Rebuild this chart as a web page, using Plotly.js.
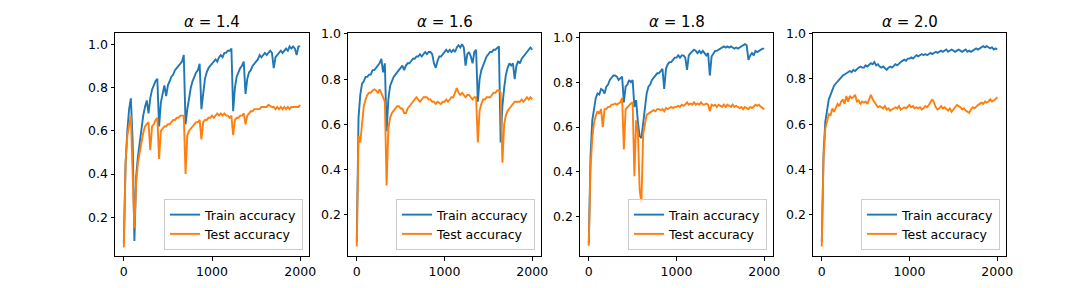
<!DOCTYPE html>
<html>
<head>
<meta charset="utf-8">
<script src="https://cdn.plot.ly/plotly-3.0.1.min.js"></script>
<style>html,body{margin:0;padding:0;background:#fff;}#chart{width:1076px;height:288px;}</style>
</head>
<body>
<div id="chart"></div>
<script>
const STEP = 20;
const alphaLabels = ["1.4", "1.6", "1.8", "2.0"];
const seriesNames = ["Train accuracy", "Test accuracy"];

const train14 = [
0.08,0.45,0.60,0.70,0.75,0.55,0.09,0.39,0.48,0.55,
0.62,0.67,0.71,0.74,0.68,0.75,0.79,0.81,0.83,0.84,
0.62,0.73,0.78,0.81,0.76,0.81,0.83,0.85,0.86,0.88,
0.89,0.90,0.91,0.92,0.95,0.63,0.70,0.76,0.80,0.83,
0.85,0.87,0.88,0.91,0.70,0.78,0.84,0.87,0.89,0.90,
0.91,0.92,0.93,0.92,0.94,0.95,0.94,0.96,0.96,0.97,
0.97,0.98,0.69,0.80,0.85,0.87,0.89,0.90,0.92,0.77,
0.84,0.87,0.88,0.90,0.91,0.92,0.93,0.95,0.94,0.95,
0.96,0.95,0.96,0.97,0.96,0.89,0.94,0.95,0.96,0.97,
0.96,0.97,0.98,0.97,0.99,0.98,0.99,0.98,0.95,0.99,
0.99];
const test14 = [
0.06,0.45,0.58,0.63,0.67,0.40,0.15,0.36,0.45,0.50,
0.55,0.59,0.62,0.63,0.64,0.51,0.62,0.63,0.65,0.66,
0.47,0.60,0.61,0.62,0.62,0.63,0.63,0.64,0.65,0.65,
0.66,0.66,0.67,0.67,0.67,0.40,0.58,0.60,0.61,0.62,
0.63,0.64,0.64,0.65,0.56,0.64,0.65,0.65,0.66,0.66,
0.67,0.66,0.67,0.68,0.67,0.68,0.67,0.68,0.67,0.67,
0.66,0.67,0.58,0.65,0.66,0.66,0.67,0.67,0.68,0.63,
0.67,0.68,0.69,0.69,0.70,0.70,0.70,0.70,0.71,0.71,
0.71,0.71,0.72,0.715,0.71,0.71,0.70,0.71,0.70,0.71,
0.70,0.71,0.70,0.71,0.70,0.71,0.71,0.71,0.71,0.71,
0.72];
const train16 = [
0.08,0.63,0.73,0.78,0.79,0.81,0.81,0.82,0.82,0.84,
0.84,0.85,0.86,0.87,0.89,0.83,0.87,0.57,0.71,0.77,
0.79,0.81,0.82,0.83,0.84,0.85,0.86,0.84,0.86,0.87,
0.87,0.88,0.89,0.89,0.90,0.90,0.91,0.90,0.91,0.92,
0.91,0.92,0.92,0.91,0.87,0.85,0.88,0.90,0.90,0.91,
0.92,0.93,0.92,0.93,0.92,0.93,0.92,0.94,0.95,0.94,
0.955,0.94,0.86,0.91,0.92,0.90,0.87,0.92,0.93,0.70,
0.80,0.84,0.86,0.88,0.90,0.91,0.92,0.92,0.93,0.93,
0.94,0.945,0.52,0.68,0.76,0.82,0.85,0.87,0.86,0.87,
0.80,0.86,0.88,0.87,0.89,0.90,0.91,0.92,0.93,0.94,
0.93];
const test16 = [
0.06,0.55,0.52,0.62,0.68,0.71,0.73,0.74,0.74,0.75,
0.755,0.75,0.74,0.755,0.74,0.72,0.70,0.33,0.58,0.63,
0.65,0.66,0.67,0.68,0.68,0.67,0.67,0.65,0.65,0.67,
0.68,0.69,0.70,0.71,0.72,0.71,0.70,0.71,0.72,0.72,
0.72,0.71,0.71,0.70,0.70,0.69,0.70,0.695,0.69,0.70,
0.70,0.71,0.70,0.71,0.72,0.72,0.74,0.76,0.74,0.73,
0.74,0.73,0.72,0.73,0.73,0.72,0.71,0.72,0.72,0.52,
0.66,0.69,0.71,0.71,0.72,0.72,0.72,0.73,0.74,0.74,
0.75,0.75,0.74,0.43,0.60,0.64,0.66,0.67,0.68,0.69,
0.70,0.70,0.70,0.70,0.71,0.70,0.71,0.72,0.71,0.72,
0.71];
const train18 = [
0.08,0.47,0.63,0.69,0.73,0.75,0.745,0.77,0.765,0.75,
0.78,0.79,0.81,0.82,0.83,0.83,0.825,0.81,0.82,0.825,
0.71,0.78,0.79,0.81,0.80,0.81,0.69,0.72,0.62,0.56,
0.55,0.62,0.70,0.75,0.78,0.79,0.81,0.82,0.83,0.84,
0.84,0.85,0.86,0.77,0.86,0.88,0.89,0.89,0.90,0.91,
0.91,0.92,0.91,0.92,0.92,0.91,0.855,0.92,0.93,0.94,
0.945,0.94,0.93,0.94,0.93,0.94,0.93,0.92,0.93,0.83,
0.915,0.93,0.94,0.94,0.945,0.95,0.955,0.96,0.955,0.96,
0.955,0.96,0.955,0.95,0.955,0.95,0.955,0.96,0.965,0.97,
0.965,0.90,0.92,0.93,0.92,0.94,0.935,0.94,0.945,0.95,
0.95];
const test18 = [
0.07,0.42,0.55,0.62,0.65,0.67,0.66,0.68,0.60,0.68,
0.68,0.69,0.69,0.70,0.70,0.705,0.70,0.705,0.71,0.73,
0.50,0.68,0.69,0.70,0.705,0.71,0.38,0.63,0.58,0.32,
0.26,0.57,0.62,0.655,0.66,0.665,0.67,0.675,0.67,0.68,
0.68,0.675,0.68,0.67,0.685,0.68,0.685,0.69,0.685,0.69,
0.69,0.695,0.69,0.70,0.695,0.70,0.71,0.70,0.705,0.70,
0.71,0.70,0.705,0.70,0.71,0.70,0.70,0.705,0.70,0.67,
0.70,0.695,0.70,0.69,0.70,0.695,0.69,0.70,0.69,0.70,
0.695,0.69,0.70,0.69,0.695,0.69,0.685,0.69,0.68,0.69,
0.685,0.68,0.69,0.685,0.69,0.70,0.695,0.70,0.69,0.685,
0.68];
const train20 = [
0.08,0.47,0.61,0.67,0.71,0.73,0.75,0.77,0.78,0.79,
0.80,0.81,0.815,0.82,0.825,0.83,0.835,0.83,0.84,0.835,
0.845,0.85,0.855,0.85,0.85,0.86,0.855,0.865,0.87,0.865,
0.875,0.86,0.865,0.855,0.85,0.855,0.845,0.84,0.85,0.855,
0.85,0.86,0.865,0.86,0.87,0.875,0.88,0.885,0.88,0.89,
0.89,0.895,0.89,0.90,0.905,0.90,0.905,0.91,0.905,0.91,
0.905,0.91,0.915,0.91,0.915,0.92,0.915,0.92,0.925,0.92,
0.925,0.93,0.92,0.925,0.93,0.925,0.92,0.925,0.93,0.925,
0.92,0.925,0.93,0.92,0.925,0.92,0.925,0.93,0.935,0.93,
0.935,0.94,0.945,0.94,0.945,0.94,0.935,0.94,0.93,0.935,
0.93];
const test20 = [
0.06,0.45,0.58,0.62,0.645,0.64,0.67,0.655,0.675,0.69,
0.68,0.70,0.71,0.69,0.725,0.70,0.725,0.715,0.72,0.73,
0.70,0.705,0.69,0.70,0.695,0.70,0.69,0.715,0.73,0.71,
0.70,0.69,0.675,0.68,0.675,0.67,0.68,0.665,0.67,0.66,
0.665,0.67,0.675,0.67,0.68,0.665,0.67,0.675,0.67,0.68,
0.685,0.675,0.68,0.67,0.675,0.67,0.675,0.665,0.67,0.68,
0.675,0.685,0.70,0.71,0.695,0.675,0.665,0.67,0.68,0.67,
0.675,0.665,0.66,0.67,0.655,0.665,0.675,0.685,0.68,0.675,
0.665,0.67,0.66,0.655,0.65,0.665,0.675,0.67,0.68,0.685,
0.69,0.695,0.69,0.70,0.695,0.70,0.71,0.70,0.705,0.71,
0.72];

const trainSeries = [train14, train16, train18, train20];
const testSeries = [test14, test16, test18, test20];
const xTicks = [0, 1000, 2000];

// Layout geometry (pixels)
const W = 1076, H = 288;
const panelsPx = [[115, 309], [348, 541], [580, 773], [813, 1006]];
const yRanges = [[0.021, 1.052], [0.018, 1.004], [0.024, 1.02], [0.018, 1.003]];
const plotTop = 33, plotBottom = 256;

const steps = train14.map((_, i) => i * STEP);

const FONT = "DejaVu Sans, Arial, sans-serif";
const BLUE = "#1f77b4", ORANGE = "#ff7f0e";

const traces = [];
const layout = {
  width: W, height: H,
  margin: {l: 0, r: 0, t: 0, b: 0, pad: 0},
  paper_bgcolor: "#fff", plot_bgcolor: "#fff",
  font: {family: FONT, size: 12.5, color: "#000"},
  showlegend: true,
  annotations: []
};

const yDom = [1 - plotBottom / H, 1 - plotTop / H];

for (let p = 0; p < 4; p++) {
  const sfx = p === 0 ? "" : String(p + 1);
  const lg = p === 0 ? "legend" : "legend" + (p + 1);
  traces.push({
    x: steps, y: trainSeries[p], type: "scatter", mode: "lines",
    name: seriesNames[0], line: {color: BLUE, width: 1.9},
    xaxis: "x" + sfx, yaxis: "y" + sfx, legend: lg
  });
  traces.push({
    x: steps, y: testSeries[p], type: "scatter", mode: "lines",
    name: seriesNames[1], line: {color: ORANGE, width: 1.9},
    xaxis: "x" + sfx, yaxis: "y" + sfx, legend: lg
  });
  const [l, r] = panelsPx[p];
  const axCommon = {
    showline: true, mirror: true, linecolor: "#000", linewidth: 1,
    ticks: "outside", ticklen: 3.5, tickwidth: 1, tickcolor: "#000",
    showgrid: false, zeroline: false, fixedrange: true,
    tickfont: {family: FONT, size: 12.5, color: "#000"}
  };
  layout["xaxis" + sfx] = Object.assign({}, axCommon, {
    domain: [l / W, r / W], range: [-100, 2100],
    tickmode: "array", tickvals: xTicks, ticktext: xTicks.map(String),
    anchor: "y" + sfx
  });
  layout["yaxis" + sfx] = Object.assign({}, axCommon, {
    domain: yDom, range: yRanges[p],
    tickmode: "linear", tick0: 0, dtick: 0.2, tickformat: ".1f",
    anchor: "x" + sfx
  });
  layout[lg] = {
    x: (r - 6) / W, xanchor: "right", xref: "paper",
    y: 1 - (plotBottom - 6) / H, yanchor: "bottom", yref: "paper",
    bgcolor: "rgba(255,255,255,0.8)", bordercolor: "#cccccc", borderwidth: 1,
    font: {family: FONT, size: 12.5, color: "#000"},
    tracegroupgap: 0
  };
  layout.annotations.push({
    text: "<i>α</i> = " + alphaLabels[p],
    x: (l + r) / 2 / W, y: 1 - 22 / H, xref: "paper", yref: "paper",
    xanchor: "center", yanchor: "middle", showarrow: false,
    font: {family: FONT, size: 15, color: "#000"}
  });
}

Plotly.newPlot("chart", traces, layout, {staticPlot: true, displayModeBar: false});
</script>
</body>
</html>
